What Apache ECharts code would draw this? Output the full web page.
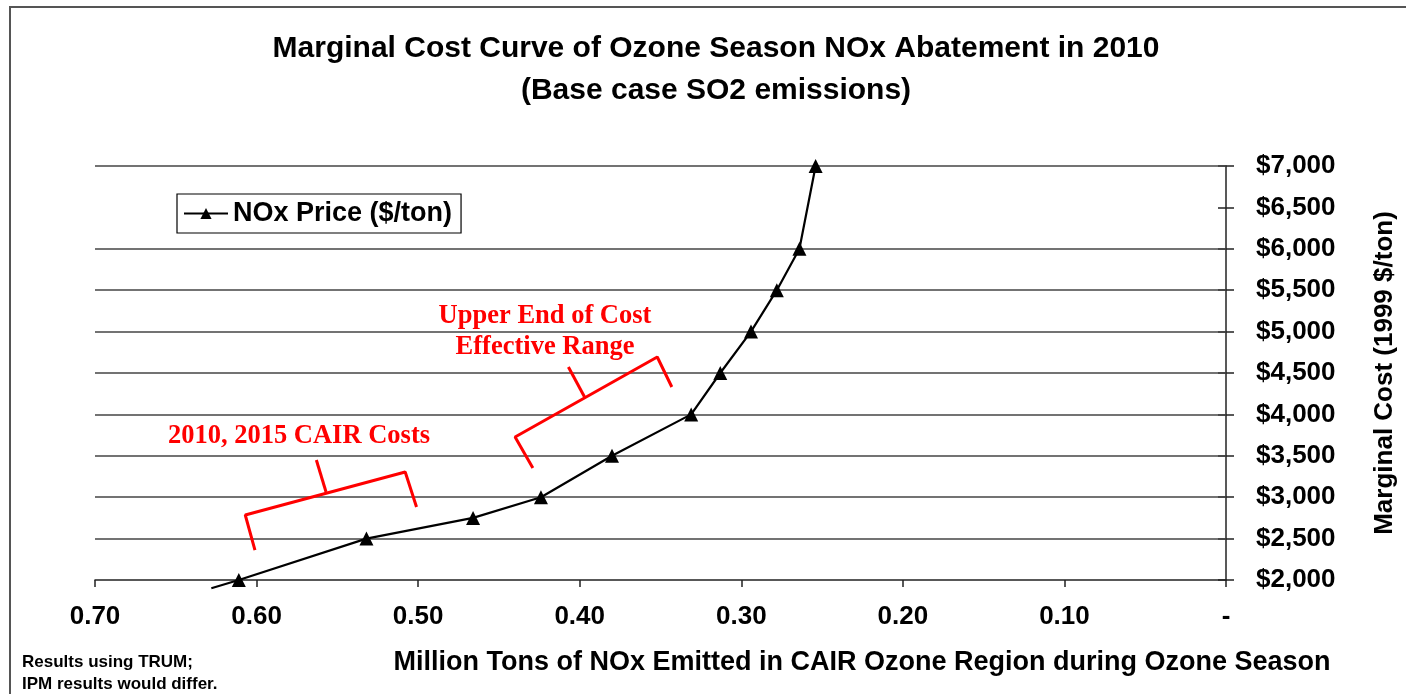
<!DOCTYPE html>
<html>
<head>
<meta charset="utf-8">
<script src="https://cdn.jsdelivr.net/npm/echarts@6/dist/echarts.min.js"></script>
<style>
html,body{margin:0;padding:0;background:#fff;}
#chart{width:1406px;height:694px;}
</style>
</head>
<body>
<div id="chart"></div>
<script>
// ---- data ----
const noxEmitted = [0.628, 0.611, 0.532, 0.466, 0.424, 0.380, 0.331, 0.313, 0.294, 0.278, 0.264, 0.254];
const noxPrice   = [1900, 2000, 2500, 2750, 3000, 3500, 4000, 4500, 5000, 5500, 6000, 7000];
const seriesName = 'NOx Price ($/ton)';
const gridValues = [2500, 3000, 3500, 4000, 4500, 5000, 5500, 6000, 7000];
// annotation brackets (data coordinates)
const cairBracketX = [0.601, 0.607, 0.508, 0.501];
const cairBracketY = [2362, 2785, 3304, 2882];
const cairStemX = [0.557, 0.563];
const cairStemY = [3063, 3449];
const upperBracketX = [0.429, 0.440, 0.352, 0.343];
const upperBracketY = [3353, 3727, 4693, 4331];
const upperStemX = [0.397, 0.407];
const upperStemY = [4210, 4572];

const zip = (xs, ys) => xs.map((x, i) => [x, ys[i]]);
const mainData = noxEmitted.map((x, i) => {
  const item = { value: [x, noxPrice[i]] };
  if (noxPrice[i] < 2000) item.symbol = 'none';
  return item;
});

const chart = echarts.init(document.getElementById('chart'));
const F = 'Liberation Sans, Arial, sans-serif';
const SERIF = '"Liberation Serif", "Times New Roman", serif';
const redLine = (name, data) => ({
  name, type: 'line', data, symbol: 'none', clip: false, silent: true,
  lineStyle: { color: '#ff0000', width: 3 }, z: 5
});

chart.setOption({
  animation: false,
  backgroundColor: '#fff',
  grid: { left: 95, right: 169, top: 166, bottom: 114 },
  legend: {
    data: [seriesName],
    left: 177, top: 194,
    orient: 'vertical',
    padding: [6, 9, 6, 6],
    borderColor: '#000', borderWidth: 1.2,
    itemWidth: 44, itemHeight: 14,
    textStyle: { fontFamily: F, fontWeight: 'bold', fontSize: 27, color: '#000' }
  },
  xAxis: {
    type: 'value', inverse: true, min: 0, max: 0.7, interval: 0.1,
    axisLine: { show: true, lineStyle: { color: '#222', width: 1.5 } },
    axisTick: { show: true, length: 7, lineStyle: { color: '#222', width: 1.5 } },
    splitLine: { show: false },
    axisLabel: {
      margin: 24,
      fontFamily: F, fontWeight: 'bold', fontSize: 26, color: '#000',
      formatter: v => (Math.abs(v) < 1e-9 ? '-' : v.toFixed(2))
    }
  },
  yAxis: [{
    type: 'value', position: 'right', min: 2000, max: 7000, interval: 500,
    axisLine: { show: true, lineStyle: { color: '#222', width: 1.5 } },
    axisTick: { show: true, length: 8, lineStyle: { color: '#222', width: 1.5 } },
    splitLine: { show: false },
    axisLabel: {
      margin: 30,
      fontFamily: F, fontWeight: 'bold', fontSize: 26, color: '#000',
      formatter: v => '$' + v.toLocaleString('en-US')
    },
    name: 'Marginal Cost (1999 $/ton)',
    nameLocation: 'middle', nameRotate: 90, nameGap: 146,
    nameTextStyle: { fontFamily: F, fontWeight: 'bold', fontSize: 26, color: '#000' }
  }, {
    type: 'value', position: 'right', min: 2000, max: 7000, interval: 500, offset: 0,
    axisLine: { show: false },
    axisTick: { show: true, inside: true, length: 8, lineStyle: { color: '#222', width: 1.5 } },
    axisLabel: { show: false },
    splitLine: { show: false }
  }],
  series: [
    {
      name: 'grid', type: 'line', data: [], silent: true,
      markLine: {
        silent: true, symbol: 'none', label: { show: false },
        lineStyle: { color: '#444', width: 1.6, type: 'solid' },
        data: gridValues.map(v => ({ yAxis: v }))
      }
    },
    {
      name: seriesName, type: 'line', data: mainData, clip: false,
      symbol: 'triangle', symbolSize: 14,
      itemStyle: { color: '#000' },
      lineStyle: { color: '#000', width: 2.2 }, z: 10
    },
    redLine('b1', zip(cairBracketX, cairBracketY)),
    redLine('s1', zip(cairStemX, cairStemY)),
    redLine('b2', zip(upperBracketX, upperBracketY)),
    redLine('s2', zip(upperStemX, upperStemY))
  ],
  graphic: [
    { type: 'rect', shape: { x: 10, y: 7, width: 1420, height: 720 }, style: { fill: 'none', stroke: '#555', lineWidth: 2 }, silent: true },
    { type: 'text', x: 716, y: 49, style: { text: 'Marginal Cost Curve of Ozone Season NOx Abatement in 2010', font: 'bold 30px ' + F, fill: '#000', align: 'center', verticalAlign: 'middle' } },
    { type: 'text', x: 716, y: 91, style: { text: '(Base case SO2 emissions)', font: 'bold 30px ' + F, fill: '#000', align: 'center', verticalAlign: 'middle' } },
    { type: 'text', x: 862, y: 663, style: { text: 'Million Tons of NOx Emitted in CAIR Ozone Region during Ozone Season', font: 'bold 27px ' + F, fill: '#000', align: 'center', verticalAlign: 'middle' } },
    { type: 'text', x: 22, y: 662, style: { text: 'Results using TRUM;', font: 'bold 17px "Liberation Sans Narrow", ' + F, fill: '#000', align: 'left', verticalAlign: 'middle' } },
    { type: 'text', x: 22, y: 684, style: { text: 'IPM results would differ.', font: 'bold 17px "Liberation Sans Narrow", ' + F, fill: '#000', align: 'left', verticalAlign: 'middle' } },
    { type: 'text', x: 545, y: 316, style: { text: 'Upper End of Cost', font: 'bold 26.5px ' + SERIF, fill: '#ff0000', align: 'center', verticalAlign: 'middle' } },
    { type: 'text', x: 545, y: 347, style: { text: 'Effective Range', font: 'bold 26.5px ' + SERIF, fill: '#ff0000', align: 'center', verticalAlign: 'middle' } },
    { type: 'text', x: 299, y: 436, style: { text: '2010, 2015 CAIR Costs', font: 'bold 26.5px ' + SERIF, fill: '#ff0000', align: 'center', verticalAlign: 'middle' } }
  ]
});
</script>
</body>
</html>
